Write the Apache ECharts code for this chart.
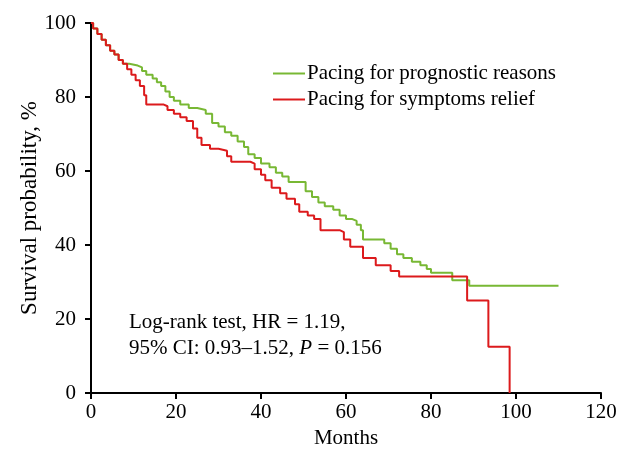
<!DOCTYPE html>
<html>
<head>
<meta charset="utf-8">
<script src="https://cdn.jsdelivr.net/npm/echarts@6/dist/echarts.min.js"></script>
<style>
  html, body { margin: 0; padding: 0; background: #fff; }
  #chart { width: 632px; height: 455px; }
</style>
</head>
<body>
<div id="chart"></div>
<script>
  // Kaplan-Meier steps: [month, survival %]
  var prognostic = [
    [0, 100], [0.5, 98.5], [1.5, 97], [2.5, 95.5], [3.5, 94], [4.5, 92.5], [5.5, 91.5],
    [6.5, 90], [7.5, 89], [9, 88.5], [11, 88], [12, 87], [13, 86], [14.5, 85], [15.5, 84],
    [16.5, 83], [17.5, 81.5], [18.5, 80], [19.5, 79], [21, 78], [23, 77], [25, 76.5],
    [27, 75.5], [28.5, 73], [30, 72], [31.5, 70.5], [33, 69.5], [34.5, 68], [36, 66.5],
    [37, 64.5], [38.5, 63.5], [40, 62], [42, 61], [43.5, 59.5], [45, 58.5], [46.5, 57],
    [50.5, 54.5], [52, 53], [53.5, 51.5], [55, 50.5], [57, 49.5], [58.5, 48], [60, 47],
    [61.5, 46.5], [62.5, 45.5], [63.5, 44], [64, 41.5], [69, 40.5], [70.5, 39], [72, 37.5],
    [73.5, 36.5], [75.5, 35.5], [77.5, 34.5], [79, 33.5], [80, 32.5], [85, 30.5], [89, 29],
    [110, 29]
  ];
  var symptoms = [
    [0, 100], [0.5, 98.5], [1.5, 97], [2.5, 95.5], [3.5, 94], [4.5, 92.5], [5.5, 91.5],
    [6.5, 90], [7.5, 89], [8.5, 87.5], [9.5, 86], [10.5, 84.5], [11.5, 83], [12.5, 80.5],
    [13, 78], [17, 77.5], [18, 76.5], [19.5, 75.5], [21, 74.5], [22.5, 73.5], [24, 71.5],
    [25, 69], [26, 67], [28, 66], [30, 65.5], [32, 64], [33, 62.5], [37.5, 62], [38.5, 60.5],
    [40, 59], [41, 57.5], [42.5, 55.5], [44.5, 54], [46, 52.5], [48, 51], [49, 49], [51, 48],
    [52.5, 47], [54, 44], [58.5, 43.5], [59.5, 41.5], [61, 39.5], [64, 36.5], [67, 34.5],
    [70.5, 33], [72.5, 31.5], [88.5, 25], [93.5, 12.5], [98.5, 0]
  ];
  var seriesNames = ['Pacing for prognostic reasons', 'Pacing for symptoms relief'];
  var seriesColors = ['#78b834', '#dc1a1c'];
  var xTicks = [0, 20, 40, 60, 80, 100, 120];
  var yTicks = [0, 20, 40, 60, 80, 100];

  var font = 'Liberation Serif';
  var fs = 21;
  var chart = echarts.init(document.getElementById('chart'));

  chart.setOption({
    animation: false,
    textStyle: {fontFamily: font},
    grid: {left: 91, right: 31, top: 23, bottom: 62},
    legend: {
      orient: 'vertical',
      left: 268,
      top: 58,
      itemWidth: 32,
      itemHeight: 2,
      itemGap: 5,
      icon: 'rect',
      textStyle: {fontFamily: font, fontSize: fs, color: '#000', padding: [0, 0, 0, -3]},
      data: seriesNames
    },
    xAxis: {
      type: 'value',
      min: xTicks[0],
      max: xTicks[xTicks.length - 1],
      interval: 20,
      name: 'Months',
      nameLocation: 'middle',
      nameGap: 35,
      nameTextStyle: {fontFamily: font, fontSize: fs, color: '#000'},
      axisLine: {lineStyle: {color: '#000', width: 2}},
      axisTick: {length: 6, lineStyle: {color: '#000', width: 2}},
      axisLabel: {fontFamily: font, fontSize: fs, color: '#000', margin: 9},
      splitLine: {show: false}
    },
    yAxis: {
      type: 'value',
      min: yTicks[0],
      max: yTicks[yTicks.length - 1],
      interval: 20,
      name: 'Survival probability, %',
      nameLocation: 'middle',
      nameGap: 50,
      nameMoveOverlap: false,
      nameTextStyle: {fontFamily: font, fontSize: 23, color: '#000'},
      axisLine: {show: true, lineStyle: {color: '#000', width: 2}},
      axisTick: {show: true, length: 6, lineStyle: {color: '#000', width: 2}},
      axisLabel: {fontFamily: font, fontSize: fs, color: '#000', margin: 15},
      splitLine: {show: false}
    },
    graphic: [
      {
        type: 'text',
        left: 129,
        top: 309,
        style: {
          text: 'Log-rank test, HR = 1.19,\n95% CI: 0.93\u20131.52, {i|P} = 0.156',
          font: fs + 'px "Liberation Serif"',
          fill: '#000',
          lineHeight: 26,
          rich: {i: {fontStyle: 'italic', fontFamily: font, fontSize: fs}}
        }
      }
    ],
    series: [
      {
        name: seriesNames[0],
        type: 'line',
        step: 'end',
        showSymbol: false,
        color: seriesColors[0],
        lineStyle: {width: 2},
        data: prognostic
      },
      {
        name: seriesNames[1],
        type: 'line',
        step: 'end',
        showSymbol: false,
        color: seriesColors[1],
        lineStyle: {width: 2},
        data: symptoms
      }
    ]
  });
</script>
</body>
</html>
